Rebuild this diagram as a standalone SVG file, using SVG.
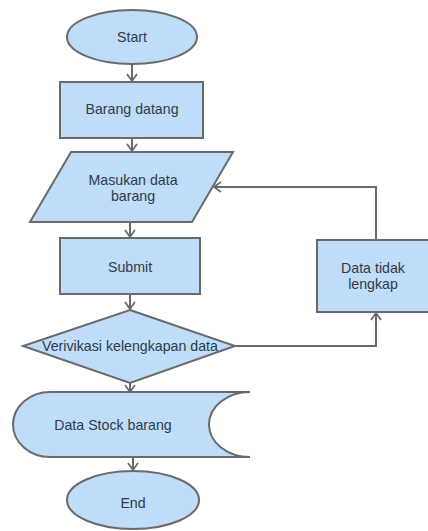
<svg xmlns="http://www.w3.org/2000/svg" width="428" height="531" viewBox="0 0 428 531">
<style>
.s{fill:#bfdcf8;stroke:#6a6a6a;stroke-width:2}
.t{font-family:"Liberation Sans",Arial,sans-serif;font-size:14.2px;fill:#2f3b4a;text-anchor:middle;dominant-baseline:central}
.c{fill:none;stroke:#6a6a6a;stroke-width:2}
</style>
<defs>
<marker id="a" markerWidth="14" markerHeight="14" refX="10" refY="6" orient="auto" markerUnits="userSpaceOnUse">
<polyline points="3,1 10,6 3,11" fill="none" stroke="#6a6a6a" stroke-width="1.8"/>
</marker>
</defs>
<rect width="428" height="531" fill="#fff"/>
<g id="connectors">
<line class="c" x1="132" y1="64" x2="132" y2="81" marker-end="url(#a)"/>
<line class="c" x1="132" y1="138" x2="132" y2="151" marker-end="url(#a)"/>
<line class="c" x1="130" y1="222" x2="130" y2="237" marker-end="url(#a)"/>
<line class="c" x1="130" y1="294" x2="130" y2="309" marker-end="url(#a)"/>
<line class="c" x1="130" y1="383" x2="130" y2="392" marker-end="url(#a)"/>
<line class="c" x1="133" y1="457" x2="133" y2="470" marker-end="url(#a)"/>
<polyline class="c" points="235,346 376,346 376,313" marker-end="url(#a)"/>
<polyline class="c" points="376,240 376,187 214,187" marker-end="url(#a)"/>
</g>
<g id="start"><ellipse class="s" cx="132" cy="37" rx="65" ry="27"/><text class="t" x="132" y="37">Start</text></g>
<g id="barang-datang"><rect class="s" x="60" y="82" width="143" height="56"/><text class="t" x="132" y="109">Barang datang</text></g>
<g id="masukan-data"><polygon class="s" points="71,152 233,152 192,222 30,222"/><text class="t" x="133" y="180">Masukan data</text><text class="t" x="133" y="196">barang</text></g>
<g id="submit"><rect class="s" x="60" y="238" width="140" height="56"/><text class="t" x="130" y="267">Submit</text></g>
<g id="verifikasi"><polygon class="s" points="130,310 235,346 130,383 23,346"/><text class="t" x="130" y="346">Verivikasi kelengkapan data</text></g>
<g id="data-tidak-lengkap"><rect class="s" x="317" y="240" width="114" height="72"/><text class="t" x="373" y="268">Data tidak</text><text class="t" x="373" y="284">lengkap</text></g>
<g id="data-stock"><path class="s" d="M50,392 L250,392 A41,32.5 0 0 0 250,457 L50,457 A37,32.5 0 0 1 50,392 Z"/><text class="t" x="113" y="425">Data Stock barang</text></g>
<g id="end"><ellipse class="s" cx="133" cy="500" rx="66" ry="29"/><text class="t" x="133" y="503">End</text></g>
</svg>
